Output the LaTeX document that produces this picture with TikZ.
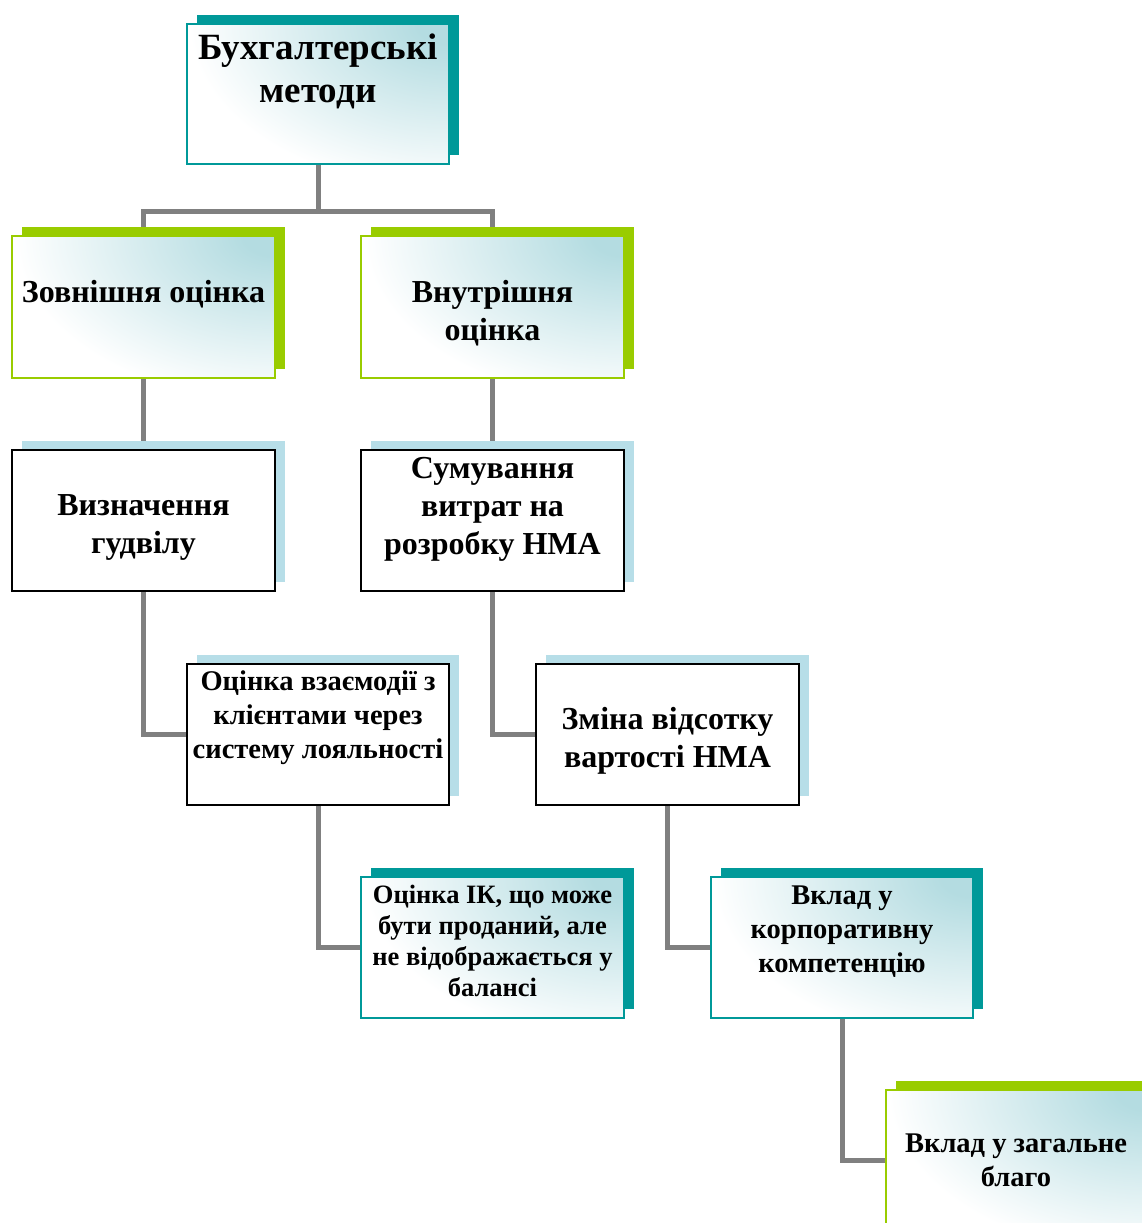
\documentclass[tikz,border=0pt]{standalone}
\usepackage{fontspec}
\setmainfont{Liberation Serif}
\usetikzlibrary{shadows}
\pgfdeclarelayer{background}
\pgfsetlayers{background,main}
\definecolor{tealdk}{HTML}{009999}
\definecolor{greenx}{HTML}{99CC00}
\definecolor{tealsh}{HTML}{B7DEE8}
\definecolor{shadec}{HTML}{B4DCE1}
\definecolor{connc}{HTML}{808080}
\pgfdeclareradialshading{trshade}{\pgfpoint{0bp}{0bp}}{color(0bp)=(shadec); color(3bp)=(shadec); color(25bp)=(white); color(50bp)=(white)}
\begin{document}
\begin{tikzpicture}[x=1pt,y=-1pt,
 box/.style={rectangle, inner sep=0pt, outer sep=0pt, minimum width=262pt, minimum height=141pt, line width=1.2pt},
 gfill/.style={path picture={
   \fill[white] (path picture bounding box.south west) rectangle (path picture bounding box.north east);
   \shade[shading=trshade] (path picture bounding box.north east) ellipse (260pt and 165pt);}},
 gbox/.style={box, draw=#1, gfill,
   general shadow={fill=#1, shadow xshift=10pt, shadow yshift=9pt}},
 wbox/.style={box, draw=black, fill=white,
   general shadow={fill=tealsh, shadow xshift=10pt, shadow yshift=9pt}},
 txt/.style={align=center, inner sep=0pt},
 fA/.style={font=\fontsize{37}{43}\selectfont\bfseries},
 fB/.style={font=\fontsize{32}{38}\selectfont\bfseries},
 fC/.style={font=\fontsize{28.5}{34}\selectfont\bfseries},
 fD/.style={font=\fontsize{26.5}{31}\selectfont\bfseries},
 link/.style={draw=connc, line width=5pt},
]
\useasboundingbox (0,0) rectangle (1142,1223);
\clip (0,0) rectangle (1142,1223);

\node[gbox=tealdk] (b1) at (318,94) [minimum height=140pt] {};
\node[gbox=greenx] (b2) at (143.5,307) [minimum width=263pt, minimum height=142pt] {};
\node[gbox=greenx] (b3) at (492.5,307) [minimum width=263pt, minimum height=142pt] {};
\node[wbox] (b4) at (143.5,520.5) [minimum width=263pt] {};
\node[wbox] (b5) at (492.5,520.5) [minimum width=263pt] {};
\node[wbox] (b6) at (318,734.5) {};
\node[wbox] (b7) at (667.5,734.5) [minimum width=263pt] {};
\node[gbox=tealdk] (b8) at (492.5,947.5) [minimum width=263pt] {};
\node[gbox=tealdk] (b9) at (842,947.5) {};
\node[gbox=greenx] (b10) at (1017,1160.5) {};

\node[txt, fA] (t1) at (318,71) {Бухгалтерські\\методи};
\node[txt, fB] (t2) at (143.5,294.5) {Зовнішня оцінка};
\node[txt, fB] (t3) at (492.5,313.5) {Внутрішня\\оцінка};
\node[txt, fB] (t4) at (143.5,527.5) {Визначення\\гудвілу};
\node[txt, fB] (t5) at (492.5,509.5) {Сумування\\витрат на\\розробку НМА};
\node[txt, fC] (t6) at (318,718) {Оцінка взаємодії з\\клієнтами через\\систему лояльності};
\node[txt, fB] (t7) at (667.5,741) {Зміна відсотку\\вартості НМА};
\node[txt, fD] (t8) at (492.5,940.5) {Оцінка ІК, що може\\бути проданий, але\\не відображається у\\балансі};
\node[txt, fC] (t9) at (842,931.5) {Вклад у\\корпоративну\\компетенцію};
\node[txt, fC] (t10) at (1016,1160) {Вклад у загальне\\благо};

\begin{pgfonlayer}{background}
\coordinate (split) at (318,211);
\draw[link] (b1.south) -- (split);
\draw[link] (b2.north) |- (split) -| (b3.north);
\draw[link] (b2.south) -- (b4.north);
\draw[link] (b3.south) -- (b5.north);
\draw[link] (b4.south) |- (b6.west);
\draw[link] (b5.south) |- (b7.west);
\draw[link] (b6.south) |- (b8.west);
\draw[link] (b7.south) |- (b9.west);
\draw[link] (b9.south) |- (b10.west);
\end{pgfonlayer}
\end{tikzpicture}
\end{document}
